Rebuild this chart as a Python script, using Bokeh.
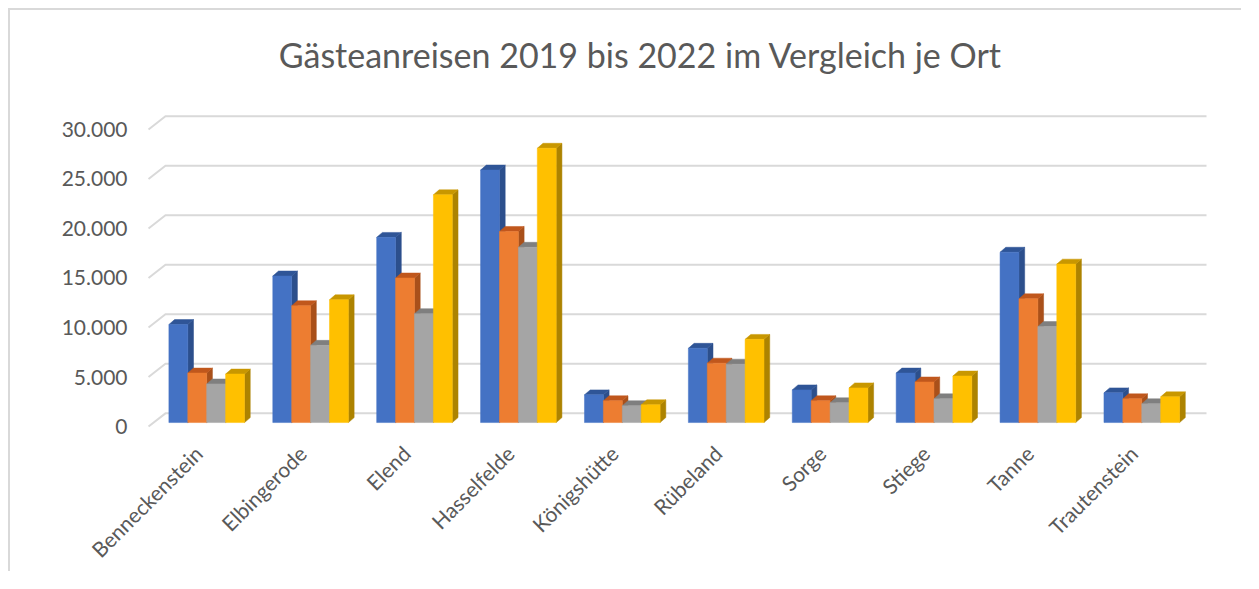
import math
from bokeh.plotting import figure
from bokeh.models import Range1d, FixedTicker, CustomJSTickFormatter
from bokeh.core.properties import value
from bokeh.embed import file_html
from bokeh.resources import INLINE

# ---- data ----
orte = ["Benneckenstein", "Elbingerode", "Elend", "Hasselfelde", "Königshütte",
        "Rübeland", "Sorge", "Stiege", "Tanne", "Trautenstein"]
jahre = ["2019", "2020", "2021", "2022"]
werte_2019 = [9900, 14800, 18700, 25500, 2800, 7500, 3300, 5000, 17200, 3000]
werte_2020 = [5000, 11800, 14600, 19300, 2200, 6000, 2200, 4100, 12500, 2400]
werte_2021 = [3900, 7800, 11000, 17700, 1700, 5900, 2000, 2400, 9700, 1900]
werte_2022 = [4900, 12400, 23000, 27700, 1800, 8400, 3500, 4700, 16000, 2600]
y_ticks = [0, 5000, 10000, 15000, 20000, 25000, 30000]
titel = "Gästeanreisen 2019 bis 2022 im Vergleich je Ort"

serien = [werte_2019, werte_2020, werte_2021, werte_2022]

# ---- styles ----
front_col = ["#4472C4", "#ED7D31", "#A5A5A5", "#FFC000"]
top_col = ["#2F5597", "#C0571C", "#7F7F7F", "#C89700"]
side_col = ["#2C4F8C", "#A9501A", "#767676", "#AD8300"]
grid_col = "#D9D9D9"
text_col = "#595959"
FONT = "Lato"

BAR_W = 0.182      # bar width in category units
DX = 0.055         # 3D depth shift (x, category units)
DY = 500           # 3D depth shift (y, value units)
FRONT_OFF = -400   # front plane of the floor/walls relative to bar plane
BACK_OFF = 930     # back wall relative to bar plane
LABEL_SHIFT = -0.08
TITLE_X, TITLE_Y = 4.175, 37200   # title position inside the (taller) frame

p = figure(width=1233, height=563, output_backend="svg", toolbar_location=None,
           x_range=Range1d(-0.618, 9.70), y_range=Range1d(-600, 40600),
           min_border_left=132, min_border_right=29, min_border_top=10,
           min_border_bottom=141)
p.styles = {"border-left": "2px solid #D9D9D9", "border-top": "2px solid #D9D9D9",
            "margin-left": "8px", "margin-top": "8px"}
p.outline_line_color = None
p.background_fill_color = "white"
p.border_fill_color = "white"
p.xgrid.visible = False
p.ygrid.visible = False

# title
p.text(x=[TITLE_X], y=[TITLE_Y], text=[titel], text_align="center",
       text_baseline="alphabetic", text_font=value(FONT), text_font_size="34px",
       text_color=text_col)

# gridlines (with 3D slant on the left wall)
gx0, gx1, gx2 = -0.56, -0.397, 9.623
p.multi_line(xs=[[gx0, gx1, gx2] for t in y_ticks],
             ys=[[t + FRONT_OFF, t + BACK_OFF, t + BACK_OFF] for t in y_ticks],
             line_color=grid_col, line_width=2)

# 3D bars
n = len(serien)
for j, vals in enumerate(serien):
    xs_c = [i + (j - (n - 1) / 2) * BAR_W for i in range(len(orte))]
    side_xs, side_ys, top_xs, top_ys = [], [], [], []
    for x, v in zip(xs_c, vals):
        r = x + BAR_W / 2
        l = x - BAR_W / 2
        side_xs.append([r, r + DX, r + DX, r])
        side_ys.append([0, DY, v + DY, v])
        top_xs.append([l, r, r + DX, l + DX])
        top_ys.append([v, v, v + DY, v + DY])
    p.patches(side_xs, side_ys, fill_color=side_col[j], line_color=side_col[j], line_width=0.5)
    p.patches(top_xs, top_ys, fill_color=top_col[j], line_color=top_col[j], line_width=0.5)
    p.vbar(x=xs_c, top=vals, bottom=0, width=BAR_W, fill_color=front_col[j],
           line_color=front_col[j], line_width=0.5)

# y axis
p.yaxis.ticker = FixedTicker(ticks=[t + FRONT_OFF for t in y_ticks])
p.yaxis.formatter = CustomJSTickFormatter(
    args=dict(off=FRONT_OFF),
    code="const v = Math.round(tick - off); return String(v).replace(/\\B(?=(\\d{3})+(?!\\d))/g, '.');")
p.yaxis.axis_line_color = None
p.yaxis.major_tick_line_color = None
p.yaxis.minor_tick_line_color = None
p.yaxis.major_tick_out = 0
p.yaxis.major_label_standoff = 15
p.yaxis.major_label_text_font = FONT
p.yaxis.major_label_text_font_size = "21px"
p.yaxis.major_label_text_color = text_col

# x axis
p.xaxis.ticker = FixedTicker(ticks=[i + LABEL_SHIFT for i in range(len(orte))])
p.xaxis.formatter = CustomJSTickFormatter(
    args=dict(names=orte),
    code="return names[Math.round(tick)];")
p.xaxis.major_label_orientation = math.pi / 4
p.xaxis.axis_line_color = None
p.xaxis.major_tick_line_color = None
p.xaxis.minor_tick_line_color = None
p.xaxis.major_tick_out = 0
p.xaxis.major_label_standoff = 21
p.xaxis.major_label_text_font = FONT
p.xaxis.major_label_text_font_size = "21px"
p.xaxis.major_label_text_color = text_col

open("out.html", "w").write(file_html(p, INLINE))
